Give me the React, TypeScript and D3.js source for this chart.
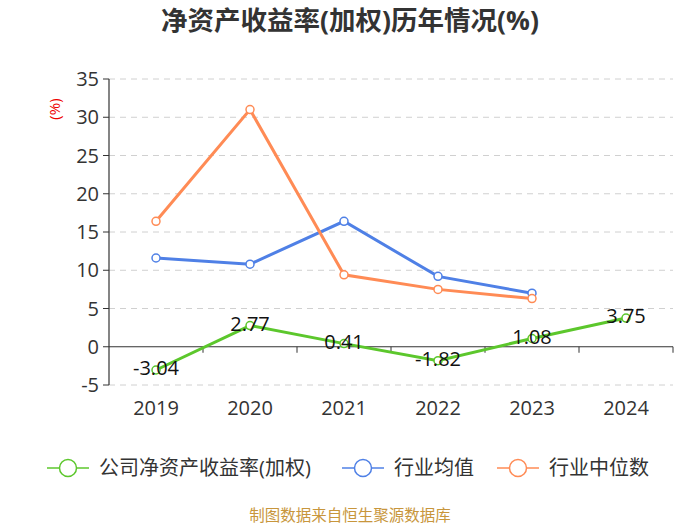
import React from "react";
import * as d3 from "d3";

const years = ["2019", "2020", "2021", "2022", "2023", "2024"];
const companyRoe = [-3.04, 2.77, 0.41, -1.82, 1.08, 3.75];
const industryAvg = [11.6, 10.8, 16.4, 9.2, 7.0];
const industryMedian = [16.4, 31.0, 9.4, 7.5, 6.3];
const yTicks = [-5, 0, 5, 10, 15, 20, 25, 30, 35];

const W = 700, H = 525;
const FONT = "'Open Sans','Noto Sans CJK SC',sans-serif";
const GREEN = "#5cc72c";
const BLUE = "#4f80e6";
const ORANGE = "#ff8b55";

export default function App() {
  const x = d3.scaleBand<string>().domain(years).range([109, 673]);
  const y = d3.scaleLinear().domain([-5, 35]).range([385, 79]);
  const cx = (i: number) => (x(years[i]) as number) + x.bandwidth() / 2;
  const line = d3.line<number>().x((_, i) => cx(i)).y((d) => y(d));

  const series = [
    { name: "公司净资产收益率(加权)", data: companyRoe, color: GREEN },
    { name: "行业均值", data: industryAvg, color: BLUE },
    { name: "行业中位数", data: industryMedian, color: ORANGE },
  ];

  const legendX = [47, 342, 497];

  return (
    <svg width={W} height={H} style={{ position: "absolute", left: 0, top: 0, fontFamily: FONT }}>
      <rect width={W} height={H} fill="#fff" />
      <text x={350} y={30} textAnchor="middle" fontSize={26.5} fontWeight="bold" fill="#333">
        净资产收益率(加权)历年情况(%)
      </text>
      <text transform={`translate(60,109) rotate(-90)`} textAnchor="middle" fontSize={15} fill="#e00">
        (%)
      </text>
      {yTicks.filter((t) => t !== 0).map((t) => (
        <line key={t} x1={109} x2={673} y1={y(t)} y2={y(t)} stroke="#d0d0d0" strokeDasharray="6,5" />
      ))}
      <line x1={109} x2={109} y1={y(35)} y2={y(-5)} stroke="#333" strokeWidth={1.2} />
      {yTicks.map((t) => (
        <g key={t}>
          <line x1={103} x2={109} y1={y(t)} y2={y(t)} stroke="#333" />
          <text x={99} y={y(t)} dy="0.36em" textAnchor="end" fontSize={20} fill="#333">{t}</text>
        </g>
      ))}
      <line x1={109} x2={673} y1={y(0)} y2={y(0)} stroke="#333" strokeWidth={1.2} />
      {years.map((yr) => (
        <line key={yr} x1={(x(yr) as number) + x.bandwidth()} x2={(x(yr) as number) + x.bandwidth()} y1={y(0)} y2={y(0) + 6} stroke="#333" />
      ))}
      {years.map((yr, i) => (
        <text key={yr} x={cx(i)} y={415} textAnchor="middle" fontSize={20} fill="#333">{yr}</text>
      ))}
      {series.map((s) => (
        <g key={s.name}>
          <path d={line(s.data) || ""} fill="none" stroke={s.color} strokeWidth={3} />
          {s.data.map((v, i) => (
            <circle key={i} cx={cx(i)} cy={y(v)} r={4} fill="#fff" stroke={s.color} strokeWidth={1.5} />
          ))}
        </g>
      ))}
      {companyRoe.map((v, i) => (
        <text key={i} x={cx(i)} y={y(v) - 2} dy="0.36em" textAnchor="middle" fontSize={20} fill="#111">
          {v.toFixed(2)}
        </text>
      ))}
      {series.map((s, k) => (
        <g key={s.name} transform={`translate(${legendX[k]},468)`}>
          <line x1={0} x2={42} y1={0} y2={0} stroke={s.color} strokeWidth={1.5} />
          <circle cx={21} cy={0} r={8.5} fill="#fff" stroke={s.color} strokeWidth={1.5} />
          <text x={52} y={0} dy="0.36em" fontSize={20} fill="#333">{s.name}</text>
        </g>
      ))}
      <text x={350} y={521} textAnchor="middle" fontSize={15.5} fill="#c8963c">制图数据来自恒生聚源数据库</text>
    </svg>
  );
}
